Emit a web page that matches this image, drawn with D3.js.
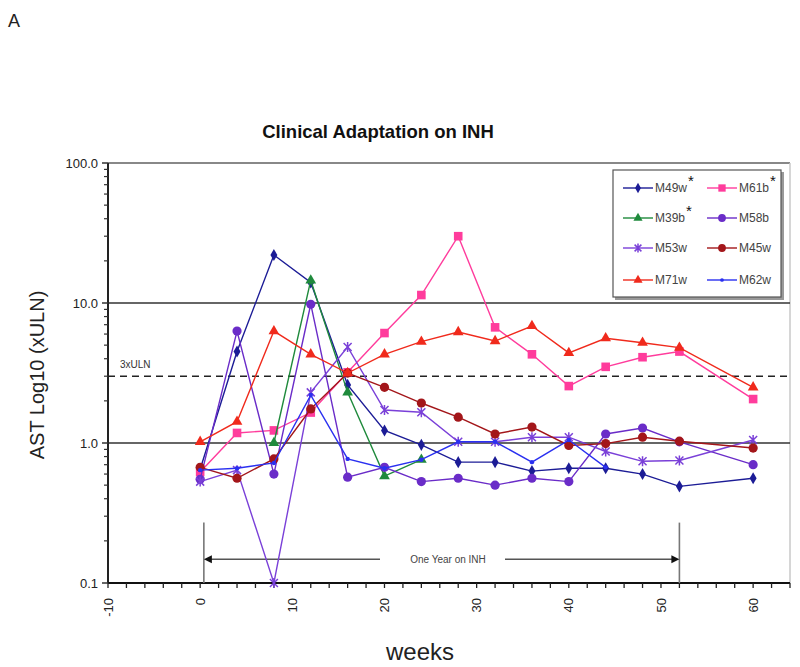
<!DOCTYPE html>
<html><head><meta charset="utf-8">
<script src="https://cdn.jsdelivr.net/npm/d3@7"></script>
<style>body{margin:0;background:#fff}svg{display:block}text{font-family:"Liberation Sans",Arial,sans-serif}</style>
</head><body>
<script>
const weeks = [0,4,8,12,16,20,24,28,32,36,40,44,48,52,60];
const M49w = [0.65,4.5,22,14,2.6,1.23,0.97,0.73,0.73,0.63,0.66,0.66,0.6,0.49,0.56];
const M61b = [0.62,1.18,1.23,1.65,3.2,6.1,11.4,30,6.7,4.3,2.55,3.5,4.1,4.5,2.06];
const M39b = [null,null,1.0,14.5,2.3,0.58,0.76,null,null,null,null,null,null,null,null];
const M58b = [0.55,6.3,0.6,9.8,0.57,0.67,0.53,0.56,0.5,0.56,0.53,1.16,1.28,1.02,0.7];
const M53w = [0.53,0.64,0.1,2.3,4.85,1.72,1.66,1.02,1.02,1.1,1.1,0.87,0.74,0.75,1.05];
const M45w = [0.67,0.56,0.77,1.75,3.16,2.5,1.93,1.53,1.16,1.3,0.96,0.99,1.1,1.03,0.92];
const M71w = [1.02,1.42,6.3,4.3,3.16,4.3,5.3,6.2,5.35,6.85,4.4,5.6,5.2,4.8,2.5];
const M62w = [0.64,0.66,0.72,2.2,0.77,0.66,0.76,1.02,1.02,0.73,1.05,0.67,null,null,null];
const seriesNames = ["M49w","M61b","M39b","M58b","M53w","M45w","M71w","M62w"];
const seriesValues = [M49w,M61b,M39b,M58b,M53w,M45w,M71w,M62w];
const seriesColors = ["#1c1c96","#ff3c9c","#1f8a3c","#6a2cc8","#7a40d8","#a3161a","#f02a1c","#2a30f0"];
const seriesMarkers = ["diamond","square","triangle","circle","star","circle","triangle","dot"];
const starred = ["M49w","M61b","M39b"];
const yTicks = [0.1,1,10,100];
const yTickLabels = ["0.1","1.0","10.0","100.0"];
const xTicks = [-10,0,10,20,30,40,50,60];
const refLines = [1,10];
const uln3 = 3;
const annotWeeks = [0.4,52];
const annotArrowValue = 0.148;
const annotTopValue = 0.27;

const W=800,H=667;
const svg=d3.select("body").append("svg").attr("width",W).attr("height",H);
const x=d3.scaleLinear().domain([-10,64]).range([108,790]);
const y=d3.scaleLog().domain([0.1,100]).range([583,163]);

svg.append("text").attr("x",8).attr("y",27).attr("font-size",18).attr("fill","#222").text("A");
svg.append("text").attr("x",378).attr("y",138).attr("text-anchor","middle").attr("font-size",18.5).attr("font-weight","bold").attr("fill","#111").text("Clinical Adaptation on INH");

// frame
svg.append("line").attr("x1",x(-10)).attr("x2",x(64)).attr("y1",y(100)).attr("y2",y(100)).attr("stroke","#888").attr("stroke-width",2);
svg.append("line").attr("x1",x(64)).attr("x2",x(64)).attr("y1",y(100)).attr("y2",y(0.1)).attr("stroke","#c8c8c8").attr("stroke-width",1.5);
refLines.forEach(v=>svg.append("line").attr("x1",x(-10)).attr("x2",x(64)).attr("y1",y(v)).attr("y2",y(v)).attr("stroke","#333").attr("stroke-width",1.6));
svg.append("line").attr("x1",x(-10)).attr("x2",x(64)).attr("y1",y(uln3)).attr("y2",y(uln3)).attr("stroke","#222").attr("stroke-width",1.5).attr("stroke-dasharray","7,5");
svg.append("text").attr("x",120).attr("y",y(uln3)-8).attr("font-size",10).attr("fill","#333").text("3xULN");

// y axis
const minor=[];
for(let d=0.1;d<100;d*=10){for(let k=2;k<=9;k++)minor.push(+(d*k).toPrecision(3));}
svg.append("line").attr("x1",x(-10)).attr("x2",x(-10)).attr("y1",y(100)).attr("y2",y(0.1)).attr("stroke","#222").attr("stroke-width",2);
svg.selectAll(".ymin").data(minor).enter().append("line").attr("x1",x(-10)-4).attr("x2",x(-10)).attr("y1",d=>y(d)).attr("y2",d=>y(d)).attr("stroke","#333").attr("stroke-width",1.2);
svg.selectAll(".ymaj").data(yTicks).enter().append("line").attr("x1",x(-10)-6).attr("x2",x(-10)).attr("y1",d=>y(d)).attr("y2",d=>y(d)).attr("stroke","#333").attr("stroke-width",1.5);
svg.selectAll(".ylab").data(yTicks).enter().append("text").attr("x",98).attr("y",d=>y(d)+4.5).attr("text-anchor","end").attr("font-size",13).attr("fill","#222").text((d,i)=>yTickLabels[i]);
svg.append("text").attr("transform","translate(44,375) rotate(-90)").attr("text-anchor","middle").attr("font-size",20).attr("fill","#222").text("AST Log10 (xULN)");

// x axis
svg.append("line").attr("x1",x(-10)).attr("x2",x(64)).attr("y1",y(0.1)).attr("y2",y(0.1)).attr("stroke","#111").attr("stroke-width",2);
svg.selectAll(".xt").data(d3.range(-10,65,2)).enter().append("line").attr("x1",d=>x(d)).attr("x2",d=>x(d)).attr("y1",y(0.1)).attr("y2",y(0.1)+5).attr("stroke","#222").attr("stroke-width",1.3);
svg.selectAll(".xl").data(xTicks).enter().append("text").attr("transform",d=>`translate(${x(d)},598) rotate(-90)`).attr("text-anchor","end").attr("dy","0.35em").attr("font-size",13).attr("fill","#222").text(d=>d);
svg.append("text").attr("x",420).attr("y",660).attr("text-anchor","middle").attr("font-size",24).attr("fill","#222").text("weeks");

// annotation
annotWeeks.forEach(w=>svg.append("line").attr("x1",x(w)).attr("x2",x(w)).attr("y1",y(annotTopValue)).attr("y2",y(0.1)).attr("stroke","#777").attr("stroke-width",1.6));
const ay=y(annotArrowValue);
svg.append("line").attr("x1",x(annotWeeks[0])+6).attr("x2",380).attr("y1",ay).attr("y2",ay).attr("stroke","#555").attr("stroke-width",1.5);
svg.append("path").attr("d",`M${x(annotWeeks[0])},${ay}l8,-4v8z`).attr("fill","#111");
svg.append("line").attr("x1",505).attr("x2",x(annotWeeks[1])-6).attr("y1",ay).attr("y2",ay).attr("stroke","#555").attr("stroke-width",1.5);
svg.append("path").attr("d",`M${x(annotWeeks[1])},${ay}l-8,-4v8z`).attr("fill","#111");
svg.append("text").attr("x",448).attr("y",ay+4).attr("text-anchor","middle").attr("font-size",10).attr("fill","#444").text("One Year on INH");

function drawMarker(g,type,color,cx,cy,scale){
  scale=scale||1;
  if(type==="circle") g.append("circle").attr("cx",cx).attr("cy",cy).attr("r",4.6*scale).attr("fill",color);
  else if(type==="dot") g.append("circle").attr("cx",cx).attr("cy",cy).attr("r",2.2*scale).attr("fill",color);
  else if(type==="square") g.append("rect").attr("x",cx-4.3*scale).attr("y",cy-4.3*scale).attr("width",8.6*scale).attr("height",8.6*scale).attr("fill",color);
  else if(type==="triangle") g.append("path").attr("transform",`translate(${cx},${cy})`).attr("d",d3.symbol(d3.symbolTriangle,50*scale*scale)()).attr("fill",color);
  else if(type==="diamond") g.append("path").attr("transform",`translate(${cx},${cy})`).attr("d",d3.symbol(d3.symbolDiamond,42*scale*scale)()).attr("fill",color);
  else if(type==="star"){const s=4*scale;g.append("path").attr("d",`M${cx-s},${cy-s}L${cx+s},${cy+s}M${cx-s},${cy+s}L${cx+s},${cy-s}M${cx},${cy-s-1}L${cx},${cy+s+1}`).attr("stroke",color).attr("stroke-width",1.5).attr("fill","none");}
}

const line=d3.line().defined(d=>d.v!=null).x(d=>x(d.w)).y(d=>y(d.v));
seriesNames.forEach((name,i)=>{
  const pts=weeks.map((w,j)=>({w,v:seriesValues[i][j]}));
  const g=svg.append("g");
  g.append("path").datum(pts).attr("d",line).attr("fill","none").attr("stroke",seriesColors[i]).attr("stroke-width",1.4);
  pts.filter(p=>p.v!=null).forEach(p=>drawMarker(g,seriesMarkers[i],seriesColors[i],x(p.w),y(p.v)));
});

// legend
const lg=svg.append("g");
lg.append("rect").attr("x",615).attr("y",172).attr("width",169).attr("height",128).attr("fill","#999");
lg.append("rect").attr("x",613).attr("y",170).attr("width",168).attr("height",127).attr("fill","#fff").attr("stroke","#555").attr("stroke-width",1.2);
const rowsY=[188,218,248,280];
seriesNames.forEach((name,i)=>{
  const col=i%2,row=Math.floor(i/2);
  const lx=col===0?623:707, ly=rowsY[row];
  lg.append("line").attr("x1",lx).attr("x2",lx+30).attr("y1",ly).attr("y2",ly).attr("stroke",seriesColors[i]).attr("stroke-width",1.4);
  drawMarker(lg,seriesMarkers[i],seriesColors[i],lx+15,ly,0.85);
  const t=lg.append("text").attr("x",lx+32).attr("y",ly+4).attr("font-size",12).attr("fill","#444").text(name);
  if(starred.includes(name)) t.append("tspan").attr("dy",-6).attr("dx",1).attr("font-size",15).attr("fill","#111").text("*");
});
</script>
</body></html>
